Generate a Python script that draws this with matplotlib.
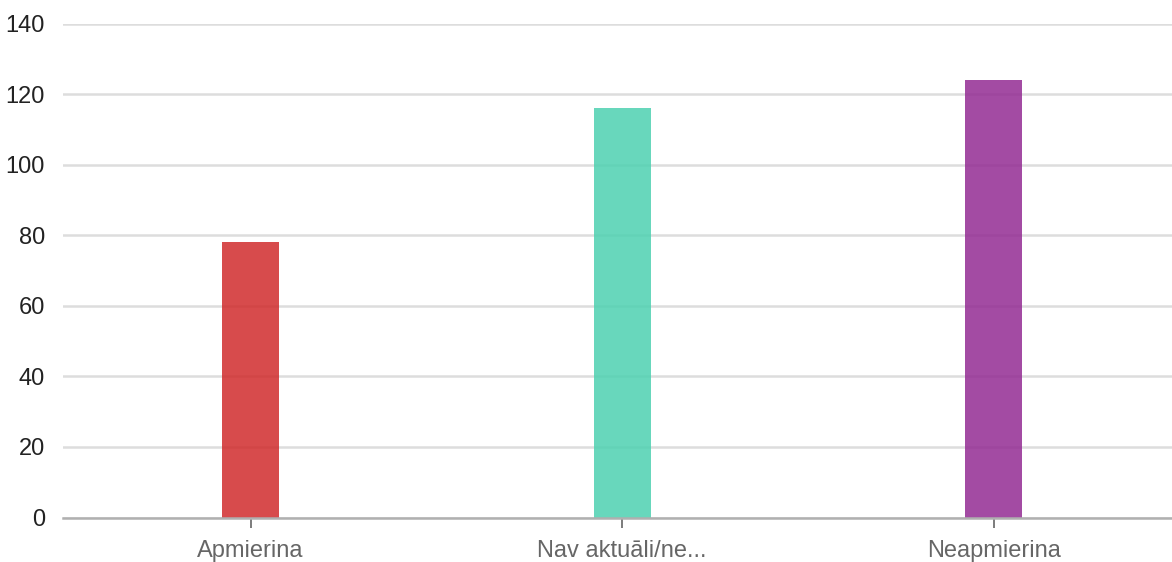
import matplotlib
matplotlib.use("Agg")
import matplotlib.pyplot as plt
from matplotlib import font_manager

categories = ["Apmierina", "Nav aktuāli/ne...", "Neapmierina"]
values = [78, 116, 124]
colors = ["#d02b2c", "#4ed1b1", "#932b93"]
yticks = [0, 20, 40, 60, 80, 100, 120, 140]

names = {f.name for f in font_manager.fontManager.ttflist}
fam = [n for n in ["Liberation Sans Narrow", "Liberation Sans", "DejaVu Sans"] if n in names]
plt.rcParams['font.family'] = fam

fig = plt.figure(figsize=(11.72, 5.62), dpi=100)
ax = fig.add_axes([63/1172, 44.5/562, 1 - 63/1172, (517.5-23.5)/562])

x = list(range(len(categories)))
ax.bar(x, values, width=0.153, color=colors, alpha=0.85, zorder=3)

ax.set_xlim(-0.505, -0.505 + 1109/371.5)
ax.set_ylim(0, 140)
ax.set_yticks(yticks)
ax.set_yticklabels([str(v) for v in yticks], fontsize=17, color="#222222")
ax.set_xticks(x)
ax.set_xticklabels(categories, fontsize=17, color="#666666")
ax.tick_params(axis='y', length=0, pad=13)
ax.tick_params(axis='x', length=7, width=1.2, color="#666666", pad=9)

ax.grid(axis='y', color="#dddddd", linewidth=1.8, zorder=0)
ax.set_axisbelow(True)
for s in ["top", "right", "left"]:
    ax.spines[s].set_visible(False)
ax.spines["bottom"].set_color("#b0b0b0")
ax.spines["bottom"].set_linewidth(1.8)
ax.spines["bottom"].set_zorder(4)

fig.savefig("out.png", dpi=100)
